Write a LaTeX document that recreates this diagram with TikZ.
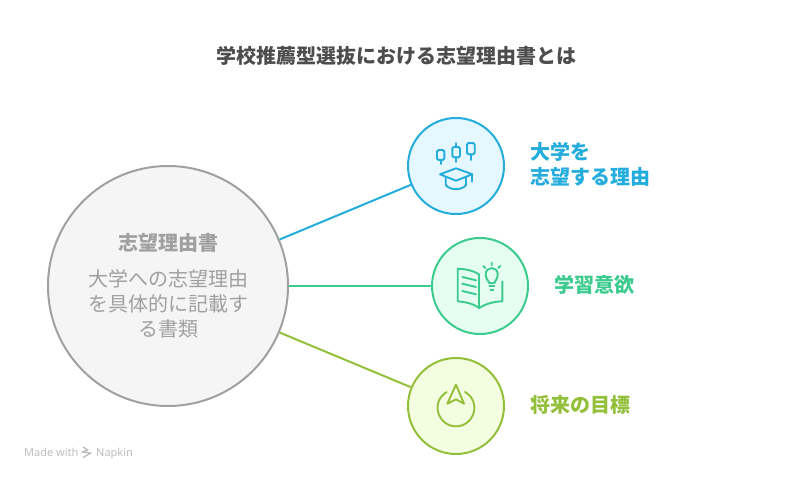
\documentclass[tikz,border=0pt]{standalone}
\usepackage{fontspec}
\setmainfont{Noto Sans}
\newfontfamily\cjk{Noto Sans CJK JP}
\usepackage{tikz}
\definecolor{greyline}{HTML}{A0A0A0}
\definecolor{greyfill}{HTML}{F5F5F5}
\definecolor{blueline}{HTML}{24ADDC}
\definecolor{bluefill}{HTML}{E6F8FF}
\definecolor{greenline}{HTML}{3CCB8F}
\definecolor{greenfill}{HTML}{E6FDF2}
\definecolor{limeline}{HTML}{94BF3B}
\definecolor{limefill}{HTML}{F3FDE0}
\definecolor{titlegrey}{HTML}{4D4D4D}
\definecolor{markgrey}{HTML}{BDBDBD}
\tikzset{
    disc/.style={circle, line width=2pt, minimum size=#1, inner sep=0pt},
    spoke/.style={line width=2pt},
    glyph/.style={line width=1.9pt, line cap=round, line join=round},
    jptext/.style={font=\cjk\fontsize{20}{25}\selectfont, inner sep=0pt},
    jpbold/.style={font=\cjk\bfseries\fontsize{20}{25}\selectfont, inner sep=0pt},
    marktext/.style={font=\fontsize{11}{13}\selectfont, text=markgrey, inner sep=0pt, anchor=base west},
}
\begin{document}
\begin{tikzpicture}[x=1pt, y=-1pt]
    \useasboundingbox (0, 0) rectangle (792, 480);
    \node[disc=240pt, draw=greyline, fill=greyfill] (main) at (168, 286) {};
    \node[disc=96pt, draw=blueline, fill=bluefill] (blue) at (456, 166) {};
    \node[disc=96pt, draw=greenline, fill=greenfill] (green) at (480, 286) {};
    \node[disc=96pt, draw=limeline, fill=limefill] (lime) at (456, 406) {};
    \draw[spoke, blueline] (main) -- (blue);
    \draw[spoke, greenline] (main) -- (green);
    \draw[spoke, limeline] (main) -- (lime);

    \node[jpbold, text=titlegrey] (title) at (396.5, 56) {学校推薦型選抜における志望理由書とは};
    \node[jpbold, text=greyline] (head) at (168, 243) {志望理由書};
    \node[jptext, text=greyline, align=center] (body) at (168, 304) {大学への志望理由\\を具体的に記載す\\る書類};
    \node[jpbold, text=blueline, align=left, anchor=west] (bluetext) at (530, 164.5) {大学を\\志望する理由};
    \node[jpbold, text=greenline, anchor=west] (greentext) at (554.5, 285) {学習意欲};
    \node[jpbold, text=limeline, anchor=west] (limetext) at (530, 405) {将来の目標};

    \draw[glyph, blueline, rounded corners=1.5pt] (437, 150) rectangle (444.3, 160);
    \draw[glyph, blueline] (440.6, 160) -- (440.6, 164);
    \draw[glyph, blueline, rounded corners=1.5pt] (452.3, 147) rectangle (460, 157.3);
    \draw[glyph, blueline] (456, 143) -- (456, 147) (456, 157.3) -- (456, 162);
    \draw[glyph, blueline, rounded corners=1.5pt] (467, 143) rectangle (474.7, 154.3);
    \draw[glyph, blueline] (470.8, 154.3) -- (470.8, 160);
    \draw[glyph, blueline] (440, 174.3) -- (456, 168.3) -- (472.3, 174.3) -- (456, 180.7) -- cycle;
    \draw[glyph, blueline] (472.3, 174.3) -- (472.3, 181.7);
    \draw[glyph, blueline] (445.7, 177.7) -- (445.7, 185) .. controls (450, 190.5) and (462, 190.5) .. (466, 185) -- (466, 177.7);

    \draw[glyph, greenline] (479.3, 274.7) .. controls (474, 270.5) and (465, 269) .. (457.7, 268.7) -- (457.7, 301.3) .. controls (466, 302) and (474, 304) .. (479.3, 308) .. controls (485, 304) and (494, 301.5) .. (502.3, 301.3) -- (502.3, 281.3);
    \draw[glyph, greenline] (479.3, 274.7) -- (479.3, 308);
    \draw[glyph, greenline] (462.3, 277) -- (476, 280.3) (462.3, 283.7) -- (476, 287) (462.3, 291) -- (476, 294.3);
    \draw[glyph, greenline] (489.3, 283) .. controls (488.5, 280.5) and (485.7, 279) .. (485.7, 274.3) .. controls (485.7, 266) and (497.7, 266) .. (497.7, 274.3) .. controls (497.7, 279) and (495, 280.5) .. (494.3, 283) -- cycle;
    \draw[glyph, greenline] (489.3, 285.8) -- (494.3, 285.8) (490.3, 290.3) -- (493.3, 290.3);
    \draw[glyph, greenline] (483.3, 266) -- (485.3, 268) (491.7, 262.7) -- (491.7, 265.3) (500.3, 266) -- (498.3, 268);

    \draw[glyph, limeline] (456, 384.7) -- (464, 403.7) -- (456, 399.3) -- (447.3, 403.7) -- cycle;
    \draw[glyph, limeline] (446.7, 392) .. controls (430, 402) and (438, 426.3) .. (456, 426.3) .. controls (474, 426.3) and (482, 402) .. (465, 392);

    \node[marktext] (made) at (24, 456) {Made with};
    \coordinate (markA) at (83, 447);
    \coordinate (markB) at (88, 450);
    \coordinate (markC) at (82, 452);
    \coordinate (markD) at (91, 453);
    \coordinate (markE) at (83, 457.5);
    \draw[markgrey, line width=1.3pt, line join=round] (markA) -- (markB) -- (markC) -- (markD) -- (markE);
    \node[marktext] (napkin) at (96, 456) {Napkin};
\end{tikzpicture}
\end{document}
